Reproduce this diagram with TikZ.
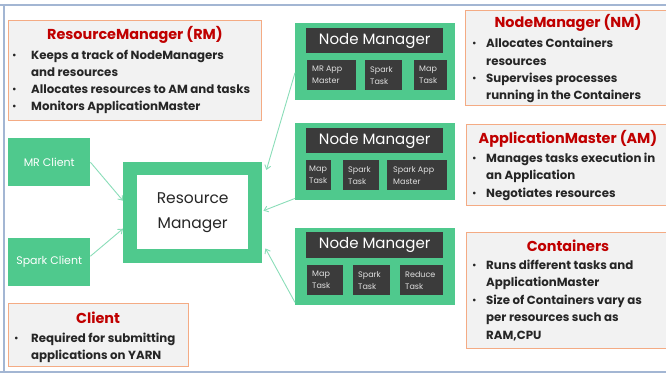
\documentclass[tikz,border=0pt]{standalone}
\usepackage{fontspec}
\setmainfont{Poppins}
\usetikzlibrary{arrows.meta}

\definecolor{nmgreen}{HTML}{4FC98D}
\definecolor{darkbox}{HTML}{3B3B3B}
\definecolor{linkgreen}{HTML}{8ADDB8}
\definecolor{infoorange}{HTML}{F4AB84}
\definecolor{infofill}{HTML}{F2F2F2}
\definecolor{titlered}{HTML}{C00000}
\definecolor{framecol}{HTML}{A3B6D3}
\definecolor{tasktext}{HTML}{E0E0E0}

\tikzset{
  infobox/.style={draw=infoorange, line width=1.2pt, fill=infofill, anchor=north west, inner sep=0pt},
  infotitle/.style={text=titlered, font=\bfseries\fontsize{14.4}{16}\selectfont, inner sep=0pt},
  bultext/.style={anchor=base west, inner sep=0pt, text=black!85, font=\bfseries\fontsize{11.8}{13}\selectfont},
  bulletdot/.style={anchor=base west, inner sep=0pt, text=black!85, font=\bfseries\fontsize{9}{10}\selectfont},
  greenbox/.style={fill=nmgreen, anchor=north west, inner sep=0pt},
  headbox/.style={fill=darkbox, anchor=north west, inner sep=0pt},
  headlabel/.style={text=white, font=\fontsize{15}{17}\selectfont, inner sep=0pt},
  taskbox/.style={fill=darkbox, anchor=north west, inner sep=0pt},
  tasklabel/.style={anchor=west, inner sep=0pt, text=tasktext, align=left,
    font=\fontsize{8}{12}\selectfont},
  clientlabel/.style={text=white, font=\fontsize{11}{13}\selectfont, inner sep=0pt},
  link/.style={draw=linkgreen, line width=0.9pt, -{Straight Barb[length=4pt,width=6pt]}},
  framebar/.style={draw=framecol, line width=2.2pt}
}

\newcommand{\bline}[4]{% name, x, baseline y, text
  \node[bultext] (#1) at (#2,#3) {#4};}
\newcommand{\bdot}[4]{% name, x, baseline y
  \node[bulletdot] (#1) at (#2,#3-1) {•};}

\begin{document}
\begin{tikzpicture}[x=1pt,y=-1pt]
\useasboundingbox (0,0) rectangle (666,375);

% slide frame
\coordinate (ftl) at (0,5);
\coordinate (ftr) at (666,5);
\coordinate (fl) at (4,5);
\coordinate (flb) at (4,372);
\coordinate (fbl) at (0,372);
\coordinate (fbr) at (666,372);
\draw[framebar] (ftl) -- (ftr);
\draw[framebar] (fl) -- (flb);
\draw[framebar] (fbl) -- (fbr);

% ---------- ResourceManager info ----------
\node[infobox, minimum width=253pt, minimum height=100pt] (rmbox) at (8,20) {};
\node[infotitle] (rmtitle) at (135,35) {ResourceManager (RM)};
\bdot{rmd1}{12}{59}{}
\bline{rml1}{31}{59}{Keeps a track of NodeManagers}
\bline{rml2}{31}{76}{and resources}
\bdot{rmd2}{12}{93}{}
\bline{rml3}{31}{93}{Allocates resources to AM and tasks}
\bdot{rmd3}{12}{110}{}
\bline{rml4}{31}{110}{Monitors ApplicationMaster}

% ---------- NodeManager info ----------
\node[infobox, minimum width=203pt, minimum height=95pt] (nmbox) at (465,10) {};
\node[infotitle] (nmtitle) at (568,23) {NodeManager (NM)};
\bdot{nmd1}{472}{47}{}
\bline{nml1}{486}{47}{Allocates Containers}
\bline{nml2}{486}{65}{resources}
\bdot{nmd2}{472}{82}{}
\bline{nml3}{486}{82}{Supervises processes}
\bline{nml4}{486}{99}{running in the Containers}

% ---------- ApplicationMaster info ----------
\node[infobox, minimum width=203pt, minimum height=81pt] (ambox) at (466,124) {};
\node[infotitle] (amtitle) at (568,139) {ApplicationMaster (AM)};
\bdot{amd1}{472}{162}{}
\bline{aml1}{486}{162}{Manages tasks execution in}
\bline{aml2}{486}{179}{an Application}
\bdot{amd2}{472}{197}{}
\bline{aml3}{486}{197}{Negotiates resources}

% ---------- Containers info ----------
\node[infobox, minimum width=203pt, minimum height=116pt] (ctbox) at (466,232) {};
\node[infotitle] (cttitle) at (568,246) {Containers};
\bdot{ctd1}{472}{269}{}
\bline{ctl1}{486}{269}{Runs different tasks and}
\bline{ctl2}{486}{286}{ApplicationMaster}
\bdot{ctd2}{472}{304}{}
\bline{ctl3}{486}{304}{Size of Containers vary as}
\bline{ctl4}{486}{321}{per resources such as}
\bline{ctl5}{486}{339}{RAM,CPU}

% ---------- Client info ----------
\node[infobox, minimum width=180pt, minimum height=63pt] (clbox) at (8,303) {};
\node[infotitle] (cltitle) at (98,318) {Client};
\bdot{cld1}{14}{342}{}
\bline{cll1}{31}{342}{Required for submitting}
\bline{cll2}{31}{359}{applications on YARN}

% ---------- clients ----------
\node[greenbox, minimum width=82pt, minimum height=48pt] (mrc) at (8,138) {};
\node[clientlabel] (mrclabel) at (mrc.center) {MR Client};
\node[greenbox, minimum width=82pt, minimum height=48pt] (spc) at (8,238) {};
\node[clientlabel] (spclabel) at (spc.center) {Spark Client};

% ---------- Resource Manager ----------
\node[greenbox, minimum width=139pt, minimum height=101pt] (rmo) at (123,162) {};
\node[fill=white, anchor=north west, inner sep=0pt, minimum width=111pt, minimum height=74pt] (rmi) at (137,175) {};
\node[inner sep=0pt, font=\fontsize{15.5}{25}\selectfont, align=center, text=black!85] (rmtext) at (rmi.center) {Resource\\Manager};

% ---------- Node Manager 1 ----------
\node[greenbox, minimum width=160pt, minimum height=77pt] (nm1) at (295,23) {};
\node[headbox, minimum width=137pt, minimum height=25pt] (nm1h) at (306,28) {};
\node[headlabel] (nm1t) at (nm1h.center) {Node Manager};
\node[taskbox, minimum width=49pt, minimum height=30pt] (nm1a) at (307,60) {};
\node[tasklabel] (nm1al) at ([xshift=5pt]nm1a.west) {MR App\\Master};
\node[taskbox, minimum width=37pt, minimum height=30pt] (nm1b) at (365,60) {};
\node[tasklabel] (nm1bl) at ([xshift=5pt]nm1b.west) {Spark\\Task};
\node[taskbox, minimum width=33pt, minimum height=30pt] (nm1c) at (414,60) {};
\node[tasklabel] (nm1cl) at ([xshift=5pt]nm1c.west) {Map\\Task};

% ---------- Node Manager 2 ----------
\node[greenbox, minimum width=160pt, minimum height=77pt] (nm2) at (295,123) {};
\node[headbox, minimum width=137pt, minimum height=25pt] (nm2h) at (306,128) {};
\node[headlabel] (nm2t) at (nm2h.center) {Node Manager};
\node[taskbox, minimum width=25pt, minimum height=30pt] (nm2a) at (306,160) {};
\node[tasklabel] (nm2al) at ([xshift=3pt]nm2a.west) {Map\\Task};
\node[taskbox, minimum width=36pt, minimum height=30pt] (nm2b) at (343,160) {};
\node[tasklabel] (nm2bl) at ([xshift=5pt]nm2b.west) {Spark\\Task};
\node[taskbox, minimum width=60pt, minimum height=30pt] (nm2c) at (387,160) {};
\node[tasklabel] (nm2cl) at ([xshift=6pt]nm2c.west) {Spark App\\Master};

% ---------- Node Manager 3 ----------
\node[greenbox, minimum width=160pt, minimum height=77pt] (nm3) at (295,228) {};
\node[headbox, minimum width=137pt, minimum height=26pt] (nm3h) at (306,232) {};
\node[headlabel] (nm3t) at (nm3h.center) {Node Manager};
\node[taskbox, minimum width=36pt, minimum height=30pt] (nm3a) at (307,265) {};
\node[tasklabel] (nm3al) at ([xshift=5pt]nm3a.west) {Map\\Task};
\node[taskbox, minimum width=37pt, minimum height=30pt] (nm3b) at (353,265) {};
\node[tasklabel] (nm3bl) at ([xshift=5pt]nm3b.west) {Spark\\Task};
\node[taskbox, minimum width=43pt, minimum height=30pt] (nm3c) at (400,265) {};
\node[tasklabel] (nm3cl) at ([xshift=5pt]nm3c.west) {Reduce\\Task};

% ---------- connectors ----------
\draw[link] (mrc.east) -- ([yshift=12pt]rmo.west);
\draw[link] ([yshift=6pt]spc.east) -- ([yshift=-16pt]rmo.west);
\draw[link] ([yshift=-11pt]nm1.west) -- ([xshift=4pt,yshift=-8pt]rmo.north east);
\draw[link] ([yshift=2pt]nm2.south west) -- ([xshift=1pt,yshift=2pt]rmo.east);
\draw[link] ([yshift=3pt]nm3.south west) -- ([xshift=3pt,yshift=15pt]rmo.south east);
\end{tikzpicture}
\end{document}
